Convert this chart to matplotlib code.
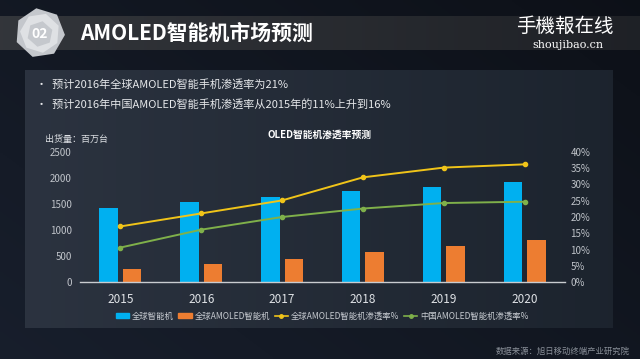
import numpy as np
import matplotlib
matplotlib.use("Agg")
import matplotlib.pyplot as plt
from matplotlib.patches import Rectangle, RegularPolygon
from matplotlib.lines import Line2D

plt.rcParams['font.family'] = ['Noto Sans CJK SC', 'DejaVu Sans']

years = ['2015', '2016', '2017', '2018', '2019', '2020']
global_smart = [1430, 1535, 1635, 1750, 1830, 1930]
global_amoled = [245, 345, 442, 577, 698, 808]
global_rate = [17.1, 21.1, 25.1, 32.2, 35.2, 36.2]
china_rate = [10.6, 16.1, 20.0, 22.6, 24.3, 24.7]

left_ticks = [0, 500, 1000, 1500, 2000, 2500]
right_ticks = [0, 5, 10, 15, 20, 25, 30, 35, 40]

W, H = 640, 359
fig = plt.figure(figsize=(W / 100, H / 100), dpi=100)

# background gradient
bg = fig.add_axes([0, 0, 1, 1])
bg.set_axis_off()
gx = np.linspace(0, 1, 200)
gy = np.linspace(0, 1, 120)
X, Y = np.meshgrid(gx, gy)
val = 0.55 + 0.45 * (1 - X) * 0.6 + 0.2 * (1 - Y)
base = np.array([0.07, 0.09, 0.13])
img = np.clip(base[None, None, :] * val[:, :, None] * 1.3, 0, 1)
bg.imshow(img, extent=[0, W, 0, H], aspect='auto', origin='upper')

# header band
band = np.linspace(0, 1, 200)
band_img = np.zeros((1, 200, 3))
band_img[0, :, 0] = 0.20 - 0.08 * band
band_img[0, :, 1] = 0.21 - 0.08 * band
band_img[0, :, 2] = 0.23 - 0.08 * band
bg.imshow(band_img, extent=[0, W, 50, 16], aspect='auto')

# content panel
panel = np.zeros((1, 200, 3))
panel[0, :, 0] = 0.17 - 0.06 * band
panel[0, :, 1] = 0.20 - 0.06 * band
panel[0, :, 2] = 0.25 - 0.07 * band
bg.imshow(panel, extent=[25, 613, 328, 70], aspect='auto')
bg.set_xlim(0, W)
bg.set_ylim(H, 0)

# hexagon badge
bg.add_patch(RegularPolygon((40, 33), 7, radius=25, orientation=0.3,
                            facecolor='#c4c7cc', edgecolor='none'))
bg.add_patch(RegularPolygon((40, 33), 7, radius=20, orientation=0.75,
                            facecolor='#e4e6e9', edgecolor='none', alpha=0.85))
bg.add_patch(RegularPolygon((40, 34), 6, radius=13, orientation=0.2,
                            facecolor='#b4b8be', edgecolor='none', alpha=0.6))
bg.text(40, 34, '02', color='white', fontsize=10, fontweight='bold',
        ha='center', va='center')

bg.text(80, 33, 'AMOLED智能机市场预测', color='white', fontsize=15,
        fontweight='bold', ha='left', va='center')

# logo
bg.text(565, 26, '手機報在线', color='white', fontsize=14, fontstyle='italic',
        ha='center', va='center')
bg.text(568, 45, 'shoujibao.cn', color='white', fontsize=8,
        family=['DejaVu Serif'], ha='center', va='center')

# bullets
bg.text(36, 84, '•  预计2016年全球AMOLED智能手机渗透率为21%', color='#e6e8eb',
        fontsize=8, ha='left', va='center')
bg.text(36, 104, '•  预计2016年中国AMOLED智能手机渗透率从2015年的11%上升到16%',
        color='#e6e8eb', fontsize=8, ha='left', va='center')

# chart
x = np.arange(len(years))
ax = fig.add_axes([80 / W, (H - 282) / H, 485 / W, 130 / H])
ax.set_facecolor('none')
ax.bar(x - 0.145, global_smart, width=0.23, color='#00b0f0', zorder=2)
ax.bar(x + 0.145, global_amoled, width=0.23, color='#ed7d31', zorder=2)
ax.set_xlim(-0.5, 5.5)
ax.set_ylim(0, 2500)
ax.set_yticks(left_ticks)
ax.set_xticks(x)
ax.set_xticklabels(years)
for s in ['top', 'right', 'left']:
    ax.spines[s].set_visible(False)
ax.spines['bottom'].set_color('#c9ccd0')
ax.spines['bottom'].set_linewidth(1)
ax.tick_params(axis='y', length=0, colors='#c0c4ca', labelsize=7, pad=6)
ax.tick_params(axis='x', length=0, colors='#dfe2e6', labelsize=8.5, pad=8)

ax2 = ax.twinx()
ax2.set_ylim(0, 40)
ax2.set_yticks(right_ticks)
ax2.set_yticklabels([f'{t}%' for t in right_ticks])
for s in ax2.spines.values():
    s.set_visible(False)
ax2.tick_params(axis='y', length=0, colors='#c0c4ca', labelsize=7, pad=4)
ax2.plot(x, global_rate, color='#f0c419', lw=1.4, marker='o', ms=3, zorder=3)
ax2.plot(x, china_rate, color='#7fb04a', lw=1.4, marker='o', ms=3, zorder=3)

bg.text(320, 135, 'OLED智能机渗透率预测', color='white', fontsize=7,
        fontweight='bold', ha='center', va='center')
bg.text(45, 139, '出货量：百万台', color='#dfe2e6', fontsize=6.5,
        ha='left', va='center')

handles = [
    Rectangle((0, 0), 1, 1, color='#00b0f0'),
    Rectangle((0, 0), 1, 1, color='#ed7d31'),
    Line2D([], [], color='#f0c419', marker='o', ms=2.5, lw=1.2),
    Line2D([], [], color='#7fb04a', marker='o', ms=2.5, lw=1.2),
]
labels = ['全球智能机', '全球AMOLED智能机', '全球AMOLED智能机渗透率%', '中国AMOLED智能机渗透率%']
fig.legend(handles, labels, loc='center', bbox_to_anchor=(322 / W, 1 - 316 / H),
           ncol=4, frameon=False, fontsize=6, labelcolor='#c8ccd2',
           handlelength=1.6, handleheight=0.5, handletextpad=0.3,
           columnspacing=0.6)

bg.text(630, 351, '数据来源：旭日移动终端产业研究院', color='#8a9099', fontsize=6,
        ha='right', va='center')

fig.savefig('out.png', dpi=100)
